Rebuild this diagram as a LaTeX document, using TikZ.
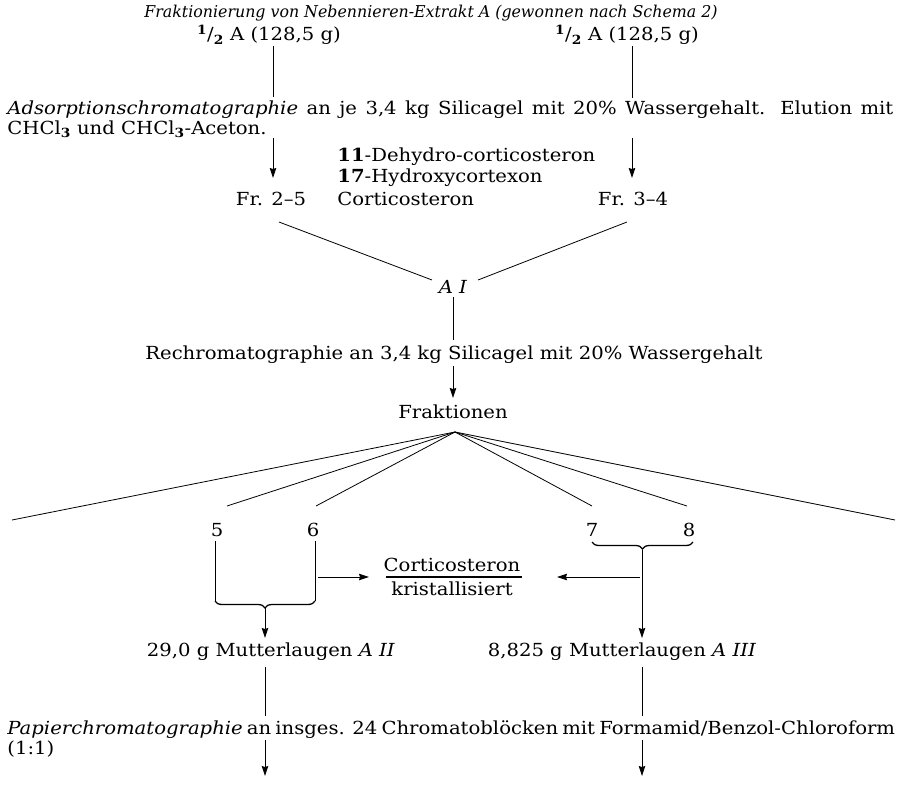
\documentclass[tikz,border=0pt]{standalone}
\usepackage{fontspec}
\setmainfont[FakeStretch=1.09]{DejaVu Serif}
\newfontfamily\titlefont[FakeStretch=0.97]{DejaVu Serif}
\usetikzlibrary{arrows.meta,decorations.pathreplacing}
\newcommand\halfA{\textsuperscript{\textbf{1}}/\textsubscript{\textbf{2}}}
\begin{document}
\begin{tikzpicture}[x=1pt,y=-1pt,line width=0.8pt,
  txt/.style={inner sep=0pt,font=\fontsize{18}{20}\selectfont},
  arr/.style={-{Stealth[length=10pt,width=6.5pt,inset=1pt]}},
  ubrace/.style={decorate,decoration={brace,mirror,amplitude=7pt},line width=1.3pt}]
\useasboundingbox (0,0) rectangle (902,800);
% texts
\node[txt,font=\titlefont\fontsize{16.3}{18}\selectfont\itshape] (title) at (431,13) {Fraktionierung von Nebennieren-Extrakt A (gewonnen nach Schema 2)};
\node[txt] (hl) at (269,35) {\halfA\ A (128,5 g)};
\node[txt] (hr) at (627,35) {\halfA\ A (128,5 g)};
\node[txt,align=left,anchor=north west] (ads) at (7,100) {\makebox[886pt][s]{\textit{Adsorptionschromatographie} an je 3,4 kg Silicagel mit 20\% Wassergehalt. Elution mit}\\CHCl\textsubscript{\textbf{3}} und CHCl\textsubscript{\textbf{3}}-Aceton.};
\node[txt,anchor=west] (d11) at (337,157) {\textbf{11}-Dehydro-corticosteron};
\node[txt,anchor=west] (h17) at (337,178) {\textbf{17}-Hydroxycortexon};
\node[txt,anchor=west] (cst) at (337,199) {Corticosteron};
\node[txt] (fr25) at (271,199) {Fr. 2--5};
\node[txt] (fr34) at (633,199) {Fr. 3--4};
\node[txt] (ai) at (453,287) {\textit{A I}};
\node[txt] (rech) at (454,355) {Rechromatographie an 3,4 kg Silicagel mit 20\% Wassergehalt};
\node[txt] (frak) at (453,412) {Fraktionen};
\node[txt] (n5) at (217,530) {5};
\node[txt] (n6) at (313,530) {6};
\node[txt] (n7) at (592,530) {7};
\node[txt] (n8) at (689,530) {8};
\node[txt] (cort) at (452,565) {Corticosteron};
\node[txt] (krist) at (452,589) {kristallisiert};
\node[txt] (m2) at (271,652) {29,0 g Mutterlaugen \textit{A II}};
\node[txt] (m3) at (622,652) {8,825 g Mutterlaugen \textit{A III}};
\node[txt,align=left,anchor=north west] (pap) at (7,720) {\makebox[886pt][s]{\textit{Papierchromatographie} an insges. 24 Chromatoblöcken mit Formamid/Benzol-Chloroform}\\(1:1)};
% coordinates
\coordinate (l1a) at (273,46); \coordinate (l1b) at (273,97);
\coordinate (r1a) at (632,46); \coordinate (r1b) at (632,98);
\coordinate (l2a) at (273,138); \coordinate (l2b) at (273,178);
\coordinate (r2a) at (632,138); \coordinate (r2b) at (632,178);
\coordinate (y1) at (279,222); \coordinate (y2) at (432,280);
\coordinate (y3) at (627,222); \coordinate (y4) at (478,280);
\coordinate (a1) at (453,297); \coordinate (a2) at (453,340);
\coordinate (a3) at (453,366); \coordinate (a4) at (453,398);
\coordinate (fo) at (455,432);
\coordinate (f1) at (12,520); \coordinate (f2) at (227,506); \coordinate (f3) at (316,506);
\coordinate (f4) at (592,506); \coordinate (f5) at (687,506); \coordinate (f6) at (895,520);
\coordinate (v5a) at (215,541); \coordinate (v5b) at (215,601);
\coordinate (v6a) at (315,541); \coordinate (v6b) at (315,601);
\coordinate (t56) at (265,608); \coordinate (t56b) at (265,638);
\coordinate (h6a) at (318,577); \coordinate (h6b) at (369,577);
\coordinate (b7) at (592,542); \coordinate (b8) at (693,542);
\coordinate (t78) at (642,550); \coordinate (t78b) at (642,638);
\coordinate (h8a) at (640,577); \coordinate (h8b) at (557,577);
\coordinate (fr1) at (386,577); \coordinate (fr2) at (522,577);
\coordinate (m2a) at (265,667); \coordinate (m2b) at (265,716);
\coordinate (m3a) at (642,667); \coordinate (m3b) at (642,716);
\coordinate (p2a) at (265,740); \coordinate (p2b) at (265,776);
\coordinate (p3a) at (642,740); \coordinate (p3b) at (642,776);
% connectors
\draw (l1a) -- (l1b); \draw (r1a) -- (r1b);
\draw[arr] (l2a) -- (l2b); \draw[arr] (r2a) -- (r2b);
\draw (y1) -- (y2); \draw (y3) -- (y4);
\draw (a1) -- (a2); \draw[arr] (a3) -- (a4);
\foreach \e in {f1,f2,f3,f4,f5,f6} \draw (fo) -- (\e);
\draw (v5a) -- (v5b); \draw (v6a) -- (v6b);
\draw[ubrace] (v5b) -- (v6b);
\draw[arr] (t56) -- (t56b);
\draw[arr] (h6a) -- (h6b);
\draw[ubrace] (b7) -- (b8);
\draw[arr] (t78) -- (t78b);
\draw[arr] (h8a) -- (h8b);
\draw[line width=1.6pt] (fr1) -- (fr2);
\draw (m2a) -- (m2b); \draw (m3a) -- (m3b);
\draw[arr] (p2a) -- (p2b); \draw[arr] (p3a) -- (p3b);
\end{tikzpicture}
\end{document}
